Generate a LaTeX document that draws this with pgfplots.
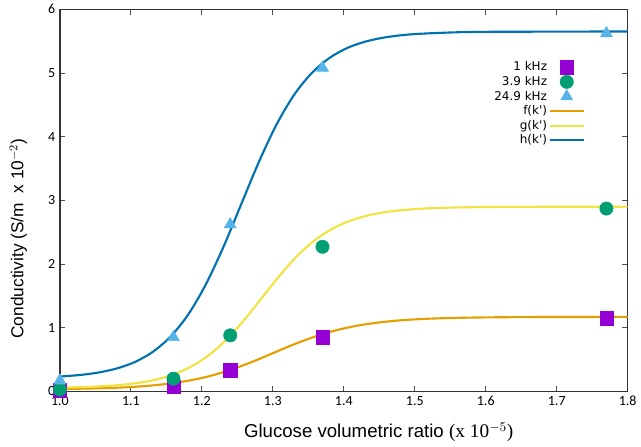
\documentclass[border=0pt]{standalone}
\usepackage{pgfplots}
\pgfplotsset{compat=1.18}
\usepackage{fontspec}
\setmainfont{Liberation Sans}
\newfontfamily\tickfont{Carlito}
\newfontfamily\legfont{DejaVu Sans}
\newfontfamily\seriffont{Liberation Serif}
\definecolor{cpurple}{HTML}{9400D3}
\definecolor{cgreen}{HTML}{009E73}
\definecolor{clblue}{HTML}{56B4E9}
\definecolor{corange}{HTML}{E69F00}
\definecolor{cyellow}{HTML}{F0E442}
\definecolor{cblue}{HTML}{0072B2}
\pgfplotsset{longleg/.style={legend image code/.code={\draw[##1] (-0.15cm,0cm) -- (0.75cm,0cm);}}}
\begin{document}
\begin{tikzpicture}
\begin{axis}[
  scale only axis,
  width=426.75pt, height=287.25pt,
  xmin=1.0, xmax=1.8, ymin=0, ymax=6,
  xtick={1.0,1.1,...,1.8}, ytick={0,1,...,6},
  /pgf/number format/assume math mode=true,
  xticklabel style={font=\tickfont\fontsize{10.5}{12}\selectfont,
    /pgf/number format/fixed, /pgf/number format/precision=1,
    /pgf/number format/fixed zerofill},
  yticklabel style={font=\tickfont\fontsize{10.5}{12}\selectfont},
  tick align=inside, major tick length=4pt,
  tick style={black!70, line width=0.6pt},
  axis line style={black!80, line width=1pt},
  xlabel={Glucose volumetric ratio {\seriffont\fontsize{14.5}{16}\selectfont(x 10$^{-5}$)}},
  ylabel={Conductivity (S/m \ x 10$^{-2}$)},
  xlabel style={font=\fontsize{14}{16}\selectfont, at={(axis description cs:0.5615,0)}, anchor=base, yshift=-35pt},
  ylabel style={font=\fontsize{13}{15}\selectfont, at={(axis description cs:0,0.40)}, anchor=base, yshift=27.5pt},
  legend cell align=right,
  legend plot pos=right,
  legend style={draw=none, fill=none, at={(0.932,0.875)}, anchor=north east,
    font=\legfont\fontsize{9}{10}\selectfont,
    row sep=0pt, nodes={inner sep=1.2pt, minimum height=11pt}},
]
\addplot[only marks, mark=square*, mark size=5pt, color=cpurple] coordinates {
 (1.0,0.02) (1.16,0.07) (1.24,0.33) (1.37,0.85) (1.77,1.15)};
\addlegendentry{1 kHz}
\addplot[only marks, mark=*, mark size=5pt, color=cgreen] coordinates {
 (1.0,0.03) (1.16,0.20) (1.24,0.88) (1.37,2.27) (1.77,2.87)};
\addlegendentry{3.9 kHz}
\addplot[only marks, mark=triangle*, mark size=5.2pt, color=clblue] coordinates {
 (1.0,0.17) (1.16,0.85) (1.24,2.62) (1.37,5.08) (1.77,5.62)};
\addlegendentry{24.9 kHz}
\addplot[smooth, no markers, color=corange, line width=1.6pt, longleg] coordinates {
 (1.0,0.038) (1.03,0.043) (1.06,0.051) (1.09,0.063) (1.12,0.084) (1.15,0.117)
 (1.18,0.166) (1.21,0.238) (1.24,0.337) (1.27,0.460) (1.30,0.600) (1.33,0.740)
 (1.36,0.863) (1.39,0.962) (1.42,1.034) (1.45,1.083) (1.48,1.116) (1.51,1.137)
 (1.54,1.149) (1.57,1.157) (1.60,1.162) (1.66,1.167) (1.8,1.170)};
\addlegendentry{f(k')}
\addplot[smooth, no markers, color=cyellow, line width=1.6pt, longleg] coordinates {
 (1.0,0.060) (1.01,0.062) (1.035,0.069) (1.06,0.081) (1.085,0.101) (1.11,0.134)
 (1.135,0.185) (1.16,0.266) (1.185,0.390) (1.21,0.570) (1.235,0.816) (1.26,1.126)
 (1.285,1.475) (1.31,1.824) (1.335,2.134) (1.36,2.380) (1.385,2.560) (1.41,2.684)
 (1.435,2.765) (1.46,2.817) (1.485,2.849) (1.51,2.869) (1.535,2.881) (1.585,2.893)
 (1.635,2.897) (1.8,2.900)};
\addlegendentry{g(k')}
\addplot[smooth, no markers, color=cblue, line width=1.6pt, longleg] coordinates {
 (1.0,0.233) (1.03,0.260) (1.055,0.298) (1.08,0.360) (1.105,0.458) (1.13,0.614)
 (1.155,0.850) (1.18,1.194) (1.205,1.666) (1.23,2.257) (1.255,2.925) (1.28,3.593)
 (1.305,4.184) (1.33,4.656) (1.355,5.000) (1.38,5.236) (1.405,5.392) (1.43,5.490)
 (1.455,5.552) (1.48,5.590) (1.505,5.613) (1.555,5.636) (1.605,5.645) (1.8,5.650)};
\addlegendentry{h(k')}
\end{axis}
\path (current axis.south west) ++(-45pt,-40.5pt) (current axis.north east) ++(9pt,6.75pt);
\end{tikzpicture}
\end{document}
